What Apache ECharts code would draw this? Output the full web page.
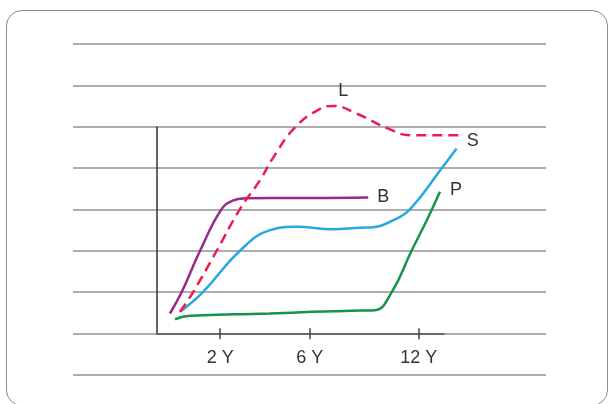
<!DOCTYPE html>
<html>
<head>
<meta charset="utf-8">
<script src="https://cdn.jsdelivr.net/npm/echarts@6/dist/echarts.min.js"></script>
<style>
	html, body { margin: 0; padding: 0; background: #fff; }
	#box { position: absolute; left: 6px; top: 10px; width: 600px; height: 394px; border: 1.5px solid #8c8c8c; border-radius: 16px; }
	#chart { position: absolute; left: 0; top: 0; width: 613px; height: 404px; }
</style>
</head>
<body>
<div id="box"></div>
<div id="chart"></div>
<script>
	// x in axis units (0..100 along the drawn axis), y in ruled-line units
	const tickPos = [22, 53.2, 91.2]
	const tickLabels = ['2 Y', '6 Y', '12 Y']

	// B - purple
	const bX = [4.5, 8.6, 15.0, 22.5, 26.6, 30.7, 40, 55, 73.6]
	const bY = [0.48, 1.0, 2.0, 3.01, 3.22, 3.27, 3.28, 3.28, 3.29]
	// L - red dashed
	const lX = [8.0, 12.6, 20.8, 28.9, 35.9, 40.6, 48.1, 56.8, 61.4, 69.6, 80.6, 88.2, 105]
	const lY = [0.52, 1.0, 2.0, 3.01, 3.71, 4.27, 4.99, 5.44, 5.51, 5.32, 4.96, 4.80, 4.80]
	const lPeak = 8 // index of the point carrying the "L" label
	// S - blue
	const sX = [8.0, 16.0, 28.9, 39.4, 48.8, 61.0, 70.7, 75.3, 82.3, 88.2, 99.2, 104.4]
	const sY = [0.52, 1.0, 2.0, 2.5, 2.58, 2.52, 2.56, 2.57, 2.74, 3.01, 4.0, 4.48]
	// P - green
	const pX = [6.3, 10.7, 27.0, 39.4, 54.3, 70.7, 76.0, 81.8, 88.7, 94.0, 98.6]
	const pY = [0.34, 0.42, 0.46, 0.48, 0.52, 0.55, 0.56, 1.0, 2.0, 2.74, 3.43]

	const pairs = (xs, ys) => xs.map((x, i) => [x, ys[i]])
	const txt = { color: '#333', fontSize: 18, fontFamily: 'Liberation Sans, Arial, sans-serif' }

	const lData = pairs(lX, lY).map((p, i) => {
		if (i !== lPeak) return p
		return { value: p, label: { show: true, formatter: 'L', position: 'top', offset: [10, -1], ...txt } }
	})

	const line = (name, data, color, extra) => Object.assign({
		name: name,
		type: 'line',
		xAxisIndex: 1,
		yAxisIndex: 1,
		data: data,
		smooth: 0.45,
		showSymbol: true,
		symbolSize: 0,
		silent: true,
		z: 5,
		lineStyle: { color: color, width: 2.5 },
		itemStyle: { color: color },
		emphasis: { disabled: true }
	}, extra)

	const chart = echarts.init(document.getElementById('chart'))
	const option = {
		animation: false,
		grid: [
			// ruled lines
			{ left: 73, right: 67, top: 44, bottom: 29.3 },
			// drawing room for the curves (same scale as the axes, just larger)
			{ left: 157, width: 315.7, top: 44.4, bottom: 70.7 },
			// the drawn axes
			{ left: 157, width: 287, top: 127, bottom: 70.7 }
		],
		xAxis: [
			{ gridIndex: 0, type: 'value', min: 0, max: 1, show: false },
			{ gridIndex: 1, type: 'value', min: 0, max: 110, show: false },
			{
				gridIndex: 2, type: 'value', min: 0, max: 100,
				axisLine: { show: true, lineStyle: { color: '#555', width: 1.5 } },
				axisTick: { show: true, customValues: tickPos, length: 6, lineStyle: { color: '#444', width: 1.5 } },
				axisLabel: {
					show: true, customValues: tickPos, margin: 16, ...txt,
					formatter: v => tickLabels[tickPos.indexOf(v)]
				},
				splitLine: { show: false }
			},
			{
				// upper half of the tick marks
				gridIndex: 2, type: 'value', min: 0, max: 100, position: 'bottom', offset: 0,
				axisLine: { show: false },
				axisTick: { show: true, inside: true, customValues: tickPos, length: 5, lineStyle: { color: '#444', width: 1.5 } },
				axisLabel: { show: false },
				splitLine: { show: false }
			}
		],
		yAxis: [
			{
				gridIndex: 0, type: 'value', min: 0, max: 8, interval: 1,
				axisLine: { show: false }, axisTick: { show: false }, axisLabel: { show: false },
				splitLine: { show: true, lineStyle: { color: '#939393', width: 1.6 } }
			},
			{ gridIndex: 1, type: 'value', min: 0, max: 7, show: false },
			{
				gridIndex: 2, type: 'value', min: 0, max: 5,
				axisLine: { show: true, lineStyle: { color: '#333', width: 1.5 } },
				axisTick: { show: false }, axisLabel: { show: false },
				splitLine: { show: false }
			}
		],
		series: [
			line('P', pairs(pX, pY), '#16934c', {
				endLabel: { show: true, formatter: 'P', offset: [2, -2], ...txt }
			}),
			line('S', pairs(sX, sY), '#27a8e0', {
				endLabel: { show: true, formatter: 'S', offset: [2, -7], ...txt }
			}),
			line('B', pairs(bX, bY), '#99288a', {
				endLabel: { show: true, formatter: 'B', offset: [1, 0], ...txt }
			}),
			line('L', lData, '#ec1c50', {
				lineStyle: { color: '#ec1c50', width: 2.5, type: [10, 6] }
			})
		]
	}
	chart.setOption(option)
</script>
</body>
</html>
